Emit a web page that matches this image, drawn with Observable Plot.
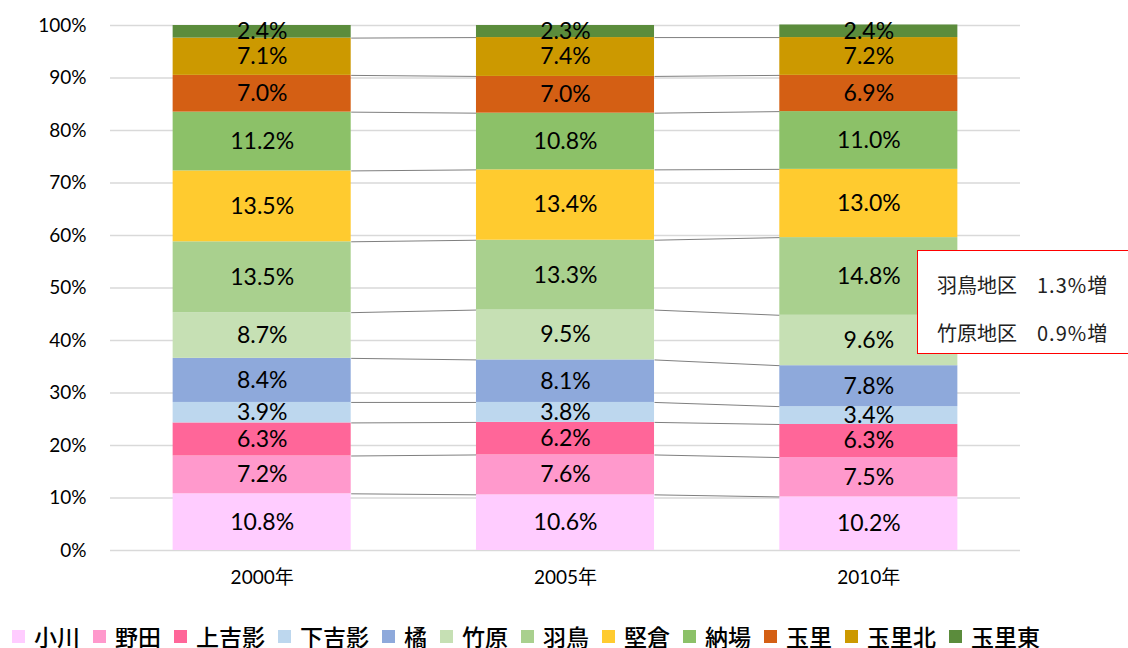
<!DOCTYPE html>
<html><head><meta charset="utf-8">
<script src="https://cdn.jsdelivr.net/npm/d3@7"></script>
<script src="https://cdn.jsdelivr.net/npm/@observablehq/plot@0.6"></script>
<style>
body{margin:0;background:#fff;font-family:Lato,"Noto Sans CJK JP",sans-serif;overflow:hidden;}
#wrap{position:relative;width:1128px;height:648px;overflow:hidden;}
#legend{position:absolute;left:12px;top:625px;height:23px;display:flex;align-items:center;font-family:"Noto Sans CJK JP";font-size:23px;font-weight:500;color:#000;line-height:23px;}
.item{display:flex;align-items:center;margin-right:13px;}
.sw{width:13px;height:13px;margin-right:9px;}
#note{position:absolute;left:917px;top:250px;width:240px;height:102px;border:1px solid #ff0000;background:#fff;font-family:"Noto Sans CJK JP";font-size:20px;color:#222;}
#note div{position:absolute;left:19px;line-height:24px;white-space:pre;}
#note span{letter-spacing:1px;}
</style>
</head><body>
<div id="wrap">
  <div id="chart"></div>
  <div id="note"><div style="top:22px">羽鳥地区　<span>1.3%</span>増</div><div style="top:70px">竹原地区　<span>0.9%</span>増</div></div>
  <div id="legend"></div>
</div>
<script>
const years = ["2000年", "2005年", "2010年"];
const areas = ["小川", "野田", "上吉影", "下吉影", "橘", "竹原", "羽鳥", "堅倉", "納場", "玉里", "玉里北", "玉里東"];
const colors = ["#FFCCFF", "#FF99CC", "#FF6699", "#BDD7EE", "#8EA9DB", "#C6E0B4", "#A9D08E", "#FFCB2F", "#8CC168", "#D45F14", "#CC9900", "#5B8C3C"];
const v2000 = [10.8, 7.2, 6.3, 3.9, 8.4, 8.7, 13.5, 13.5, 11.2, 7.0, 7.1, 2.4];
const v2005 = [10.6, 7.6, 6.2, 3.8, 8.1, 9.5, 13.3, 13.4, 10.8, 7.0, 7.4, 2.3];
const v2010 = [10.2, 7.5, 6.3, 3.4, 7.8, 9.6, 14.8, 13.0, 11.0, 6.9, 7.2, 2.4];
const yTicks = [0, 10, 20, 30, 40, 50, 60, 70, 80, 90, 100];

const series = [v2000, v2005, v2010];
const hw = 0.2935; // half bar width in band units
const segs = [];
const tops = [];
series.forEach((vals, i) => {
  let c = 0;
  const t = [];
  vals.forEach((v, s) => {
    segs.push({i, area: areas[s], v, y1: c, y2: c + v});
    c += v;
    t.push(c);
  });
  tops.push(t);
});
const links = [];
for (let s = 0; s < areas.length - 1; s++) {
  for (let i = 0; i < series.length - 1; i++) {
    links.push({x1: i + hw, x2: i + 1 - hw, y1: tops[i][s], y2: tops[i + 1][s]});
  }
}

const chart = Plot.plot({
  width: 1128,
  height: 600,
  marginLeft: 110,
  marginRight: 108,
  marginTop: 25,
  marginBottom: 50,
  style: {fontFamily: "Lato, 'Noto Sans CJK JP', sans-serif", color: "#000"},
  x: {type: "linear", domain: [-0.5, 2.5], label: null},
  y: {domain: [0, 100], label: null},
  color: {domain: areas, range: colors},
  marks: [
    Plot.ruleY(yTicks, {stroke: "#d9d9d9", strokeWidth: 1.5}),
    Plot.axisY({ticks: yTicks, tickFormat: d => d + "%", tickSize: 0, tickPadding: 24, fontSize: 19, fill: "#000"}),
    Plot.axisX({ticks: [0, 1, 2], tickFormat: i => years[i], tickSize: 0, tickPadding: 20, fontSize: 19, fill: "#000"}),
    Plot.link(links, {x1: "x1", x2: "x2", y1: "y1", y2: "y2", stroke: "#7f7f7f", strokeWidth: 1}),
    Plot.rect(segs, {x1: d => d.i - hw, x2: d => d.i + hw, y1: "y1", y2: "y2", fill: "area"}),
    Plot.text(segs, {x: "i", y: d => (d.y1 + d.y2) / 2, text: d => d.v.toFixed(1) + "%", fill: "#000", fontSize: 23, fontFamily: "Lato"})
  ]
});
document.getElementById("chart").appendChild(chart);

const lg = document.getElementById("legend");
areas.forEach((a, k) => {
  const it = document.createElement("div");
  it.className = "item";
  it.innerHTML = `<span class="sw" style="background:${colors[k]}"></span><span>${a}</span>`;
  lg.appendChild(it);
});
</script>
</body></html>
